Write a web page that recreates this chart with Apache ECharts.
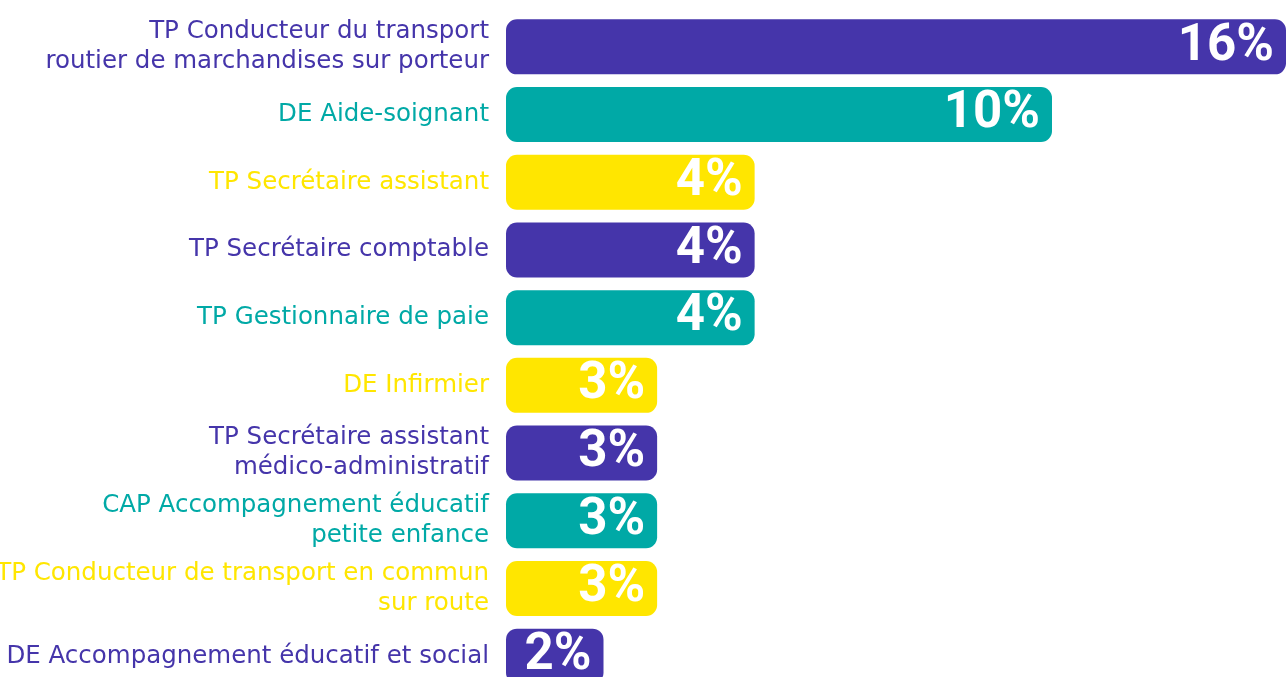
<!DOCTYPE html>
<html>
<head>
<meta charset="utf-8">
<script src="https://cdn.jsdelivr.net/npm/echarts@6/dist/echarts.min.js"></script>
<style>
  html, body { margin: 0; padding: 0; background: #fff; }
  #chart { width: 1288px; height: 677px; }
</style>
</head>
<body>
<div id="chart"></div>
<script>
// formations (du haut vers le bas)
var categories = [
  'TP Conducteur du transport\nroutier de marchandises sur porteur',
  'DE Aide-soignant',
  'TP Secrétaire assistant',
  'TP Secrétaire comptable',
  'TP Gestionnaire de paie',
  'DE Infirmier',
  'TP Secrétaire assistant\nmédico-administratif',
  'CAP Accompagnement éducatif\npetite enfance',
  'TP Conducteur de transport en commun\nsur route',
  'DE Accompagnement éducatif et social'
];
// longueur des barres
var barValues = [16, 11.2, 5.1, 5.1, 5.1, 3.1, 3.1, 3.1, 3.1, 2];
// pourcentages affichés
var pctLabels = [16, 10, 4, 4, 4, 3, 3, 3, 3, 2];
var barColors = ['#4535aa', '#00a9a6', '#ffe600', '#4535aa', '#00a9a6', '#ffe600', '#4535aa', '#00a9a6', '#ffe600', '#4535aa'];

var myChart = echarts.init(document.getElementById('chart'));
var option = {
  animation: false,
  grid: { left: 506, right: 2, top: 13, height: 677, outerBoundsMode: 'none', containLabel: false },
  xAxis: {
    type: 'value',
    min: 0,
    max: 16,
    show: false
  },
  yAxis: {
    type: 'category',
    inverse: true,
    data: categories,
    axisLine: { show: false },
    axisTick: { show: false },
    splitLine: { show: false },
    axisLabel: {
      margin: 17,
      fontFamily: '"DejaVu Sans", sans-serif',
      fontSize: 24.5,
      lineHeight: 30,
      align: 'right',
      color: function (value, index) {
        return barColors[index];
      }
    }
  },
  series: [
    {
      type: 'bar',
      barWidth: 55,
      data: barValues.map(function (v, i) {
        return { value: v, itemStyle: { color: barColors[i] } };
      }),
      itemStyle: { borderRadius: 11 },
      label: {
        show: true,
        position: 'insideRight',
        distance: 12,
        color: '#fff',
        fontFamily: 'Roboto, sans-serif',
        fontSize: 51,
        fontWeight: 'bold',
        formatter: function (p) {
          return pctLabels[p.dataIndex] + '%';
        }
      }
    }
  ]
};
myChart.setOption(option);
window.addEventListener('resize', function () {
  myChart.resize();
});
</script>
</body>
</html>
